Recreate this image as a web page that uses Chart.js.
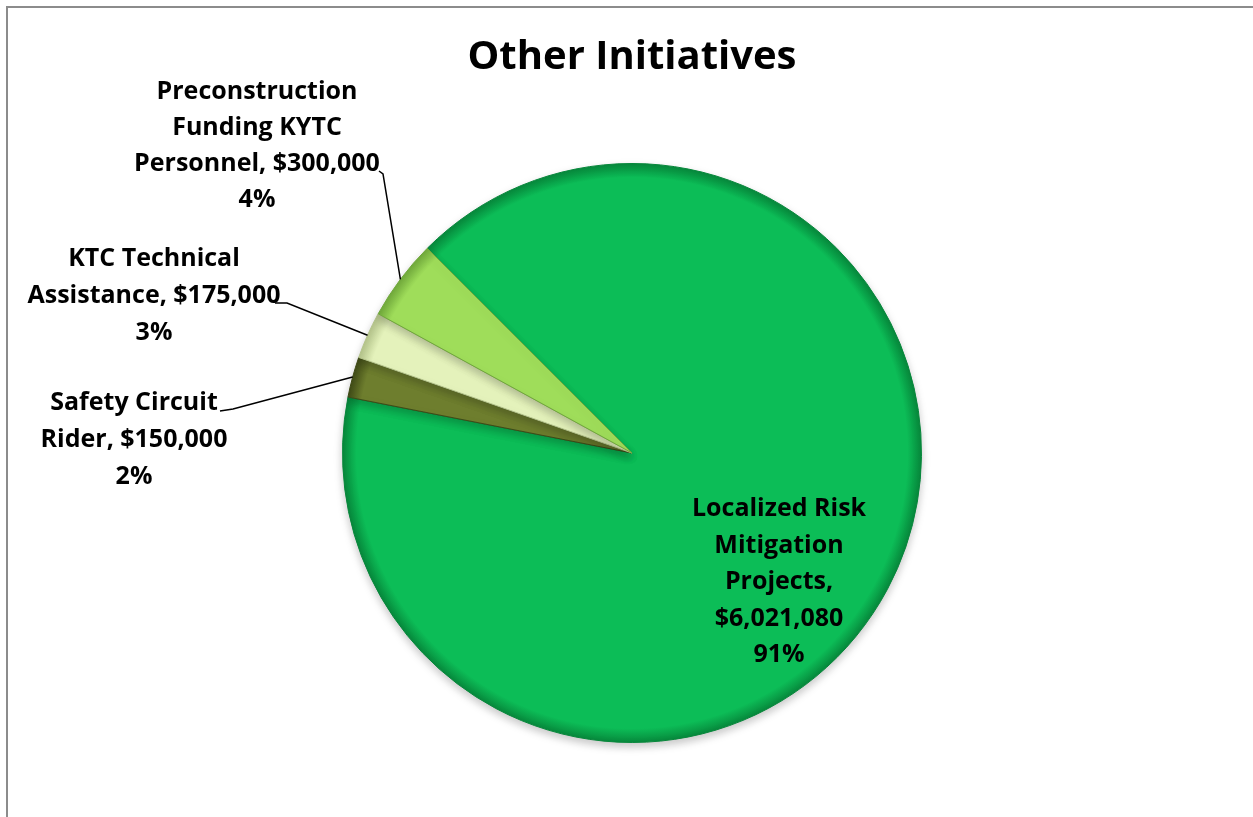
<!DOCTYPE html>
<html>
<head>
<meta charset="utf-8">
<title>Other Initiatives</title>
<script src="https://cdn.jsdelivr.net/npm/chart.js@4/dist/chart.umd.min.js"></script>
<style>
  html, body { margin: 0; padding: 0; background: #fff; }
  #wrap { position: relative; width: 1253px; height: 817px; }
  #frame {
    position: absolute; left: 6px; top: 6px; right: 0; bottom: -4px;
    border-left: 2px solid #8c8c8c; border-top: 2px solid #8c8c8c;
    pointer-events: none;
  }
  canvas { display: block; }
</style>
</head>
<body>
<div id="wrap">
  <canvas id="pie" width="1253" height="817"></canvas>
  <div id="frame"></div>
</div>
<script>
const TITLE = "Other Initiatives";
const categories = [
  "Localized Risk Mitigation Projects",
  "Safety Circuit Rider",
  "KTC Technical Assistance",
  "Preconstruction Funding KYTC Personnel",
];
const amounts = [6021080, 150000, 175000, 300000];
const percentLabels = ["91%", "2%", "3%", "4%"];
const sliceColors = ["#0cbd57", "#6e7e2e", "#e4f2bb", "#9fdd5a"];
const edgeColors = ["#07873b", "#3f4a16", "#b4c48a", "#6fa83a"];

// label text split into lines, as placed in the original
const labelLines = [
  ["Localized Risk", "Mitigation", "Projects,", "$6,021,080", "91%"],
  ["Safety Circuit", "Rider, $150,000", "2%"],
  ["KTC Technical", "Assistance, $175,000", "3%"],
  ["Preconstruction", "Funding KYTC", "Personnel, $300,000", "4%"],
];

// layout of the labels: centre x, first line y, line step, leader line start points
const labelPos = [
  { x: 779, y: 509, step: 36.5, leader: null },
  { x: 134, y: 403, step: 37, leader: [[220, 411], [233, 409]] },
  { x: 154, y: 259, step: 37, leader: [[275, 303], [287, 303]] },
  { x: 257, y: 92, step: 36, leader: [[379, 171], [383, 174]] },
];

const LABEL_FONT = "bold 25px 'Open Sans', Lato, sans-serif";

function sliceFill(ctx) {
  const chart = ctx.chart;
  const a = chart.chartArea;
  if (!a) return sliceColors[ctx.dataIndex];
  const cx = (a.left + a.right) / 2;
  const cy = (a.top + a.bottom) / 2;
  const r = Math.min(a.right - a.left, a.bottom - a.top) / 2;
  const g = chart.ctx.createRadialGradient(cx, cy, 0, cx, cy, r);
  g.addColorStop(0, sliceColors[ctx.dataIndex]);
  g.addColorStop(0.95, sliceColors[ctx.dataIndex]);
  g.addColorStop(1, edgeColors[ctx.dataIndex]);
  return g;
}

const shadowPlugin = {
  id: "shadow",
  beforeDatasetsDraw(chart) {
    const c = chart.ctx;
    c.save();
    c.shadowColor = "rgba(0,0,0,0.22)";
    c.shadowBlur = 8;
    c.shadowOffsetY = 4;
  },
  afterDatasetsDraw(chart) {
    chart.ctx.restore();
  },
};

const labelPlugin = {
  id: "sliceLabels",
  afterDatasetsDraw(chart) {
    const c = chart.ctx;
    const meta = chart.getDatasetMeta(0);
    c.save();
    c.font = LABEL_FONT;
    c.fillStyle = "#000";
    c.textAlign = "center";
    c.textBaseline = "middle";
    meta.data.forEach((arc, i) => {
      const pos = labelPos[i];
      labelLines[i].forEach((line, k) => {
        c.fillText(line, pos.x, pos.y + k * pos.step);
      });
      if (pos.leader) {
        const p = arc.getProps(["x", "y", "startAngle", "endAngle", "outerRadius"], true);
        const mid = (p.startAngle + p.endAngle) / 2;
        const ex = p.x + Math.cos(mid) * p.outerRadius;
        const ey = p.y + Math.sin(mid) * p.outerRadius;
        c.beginPath();
        c.strokeStyle = "#000";
        c.lineWidth = 1.5;
        c.moveTo(pos.leader[0][0], pos.leader[0][1]);
        c.lineTo(pos.leader[1][0], pos.leader[1][1]);
        c.lineTo(ex, ey);
        c.stroke();
      }
    });
    c.restore();
  },
};

new Chart(document.getElementById("pie"), {
  type: "pie",
  data: {
    labels: categories,
    datasets: [{
      data: amounts,
      backgroundColor: sliceFill,
      borderColor: edgeColors,
      borderWidth: 1,
    }],
  },
  options: {
    responsive: false,
    animation: false,
    rotation: 315,
    layout: { padding: { left: 342, right: 331, top: 0, bottom: 74 } },
    plugins: {
      legend: { display: false },
      tooltip: { enabled: false },
      title: {
        display: true,
        text: TITLE,
        color: "#000",
        font: { family: "'Open Sans', Lato, sans-serif", size: 40, weight: "bold", lineHeight: 1.2 },
        padding: { top: 34, bottom: 81 },
      },
    },
  },
  plugins: [shadowPlugin, labelPlugin],
});
</script>
</body>
</html>
